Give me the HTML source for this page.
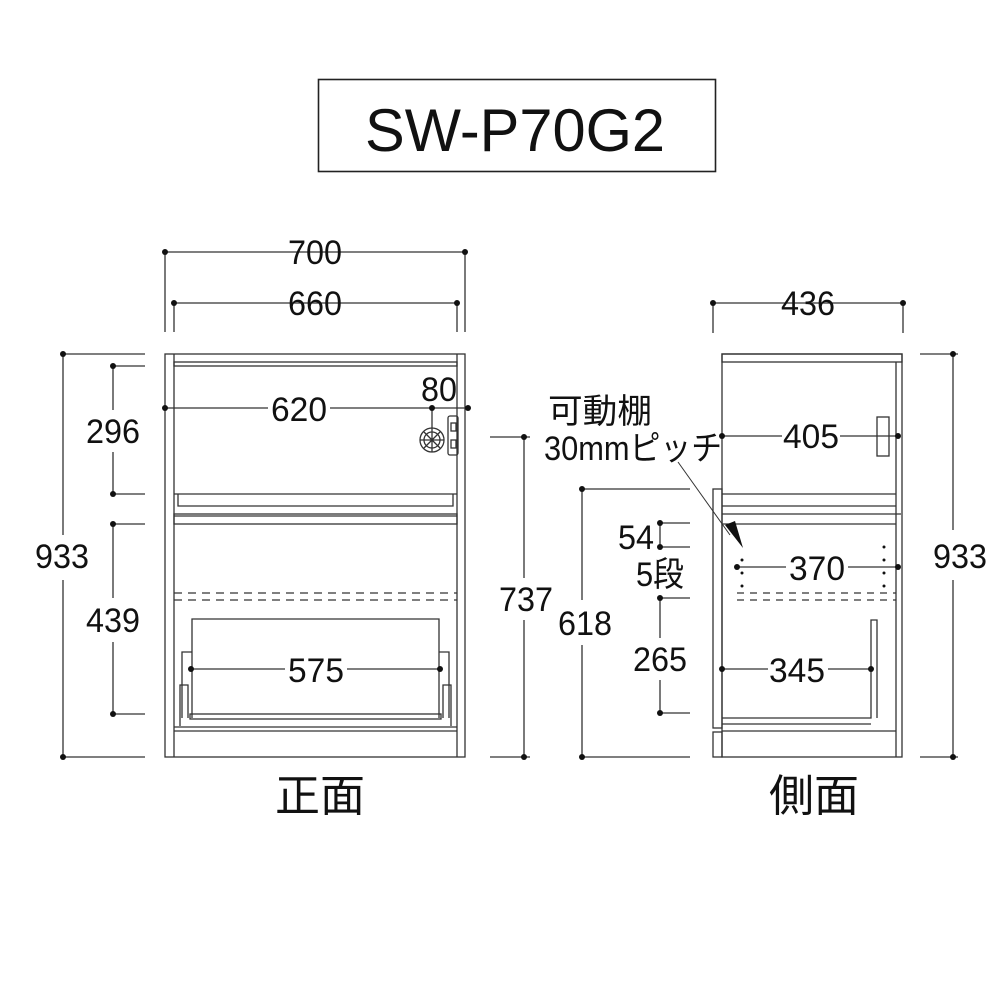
<!DOCTYPE html>
<html><head><meta charset="utf-8"><style>
html,body{margin:0;padding:0;background:#fff;}
svg{display:block;}
text{font-family:"Liberation Sans","Noto Sans CJK JP",sans-serif;fill:#111;}
</style></head><body>
<svg width="1000" height="1000" viewBox="0 0 1000 1000" xmlns="http://www.w3.org/2000/svg">
<g fill="none" stroke="#333" stroke-width="1.3">
<rect x="318.5" y="79.5" width="397" height="92" stroke="#222" stroke-width="1.6"/>
<line x1="165" y1="252" x2="465" y2="252"/>
<line x1="165" y1="252" x2="165" y2="332"/><line x1="465" y1="252" x2="465" y2="332"/>
<line x1="174" y1="303" x2="457" y2="303"/>
<line x1="174" y1="303" x2="174" y2="332"/><line x1="457" y1="303" x2="457" y2="332"/>
<line x1="63" y1="354" x2="145" y2="354"/><line x1="63" y1="757" x2="145" y2="757"/>
<line x1="63" y1="354" x2="63" y2="535"/><line x1="63" y1="580" x2="63" y2="757"/>
<line x1="113" y1="366" x2="145" y2="366"/><line x1="113" y1="494" x2="145" y2="494"/>
<line x1="113" y1="524" x2="145" y2="524"/><line x1="113" y1="714" x2="145" y2="714"/>
<line x1="113" y1="366" x2="113" y2="410"/><line x1="113" y1="452" x2="113" y2="494"/>
<line x1="113" y1="524" x2="113" y2="598"/><line x1="113" y1="642" x2="113" y2="714"/>
<line x1="490" y1="437" x2="530" y2="437"/><line x1="490" y1="757" x2="530" y2="757"/>
<line x1="524" y1="437" x2="524" y2="578"/><line x1="524" y1="620" x2="524" y2="757"/>
<rect x="165" y="354" width="300" height="403"/>
<line x1="174" y1="354" x2="174" y2="757"/><line x1="457" y1="354" x2="457" y2="757"/>
<rect x="174" y="362" width="283" height="4"/>
<path d="M178 494 V506 H453 V494 M174 494 H457"/>
<rect x="174" y="514" width="283" height="10"/>
<line x1="174" y1="516" x2="457" y2="516"/>
<line x1="174" y1="593" x2="457" y2="593" stroke-dasharray="8,6"/>
<line x1="174" y1="600" x2="457" y2="600" stroke-dasharray="8,6"/>
<path d="M192 718 V619 H439 V718"/>
<path d="M182 718 V652 H192 M449 718 V652 H439"/>
<path d="M180 726 V685 H188 V718 M451 726 V685 H443 V718"/>
<rect x="190" y="714" width="251" height="5"/>
<line x1="174" y1="727" x2="457" y2="727"/>
<line x1="174" y1="731" x2="457" y2="731"/>
<line x1="165" y1="408" x2="268" y2="408"/><line x1="330" y1="408" x2="468" y2="408"/>
<line x1="432" y1="408" x2="432" y2="428"/>
<circle cx="432" cy="440" r="12"/>
<circle cx="432" cy="440" r="8"/>
<path d="M424 432 L440 448 M440 432 L424 448 M432 428 V452 M420 440 H444"/>
<rect x="448" y="416" width="10" height="39" rx="2"/>
<rect x="451" y="423" width="5" height="8"/><rect x="451" y="440" width="5" height="8"/>
<line x1="191" y1="669" x2="285" y2="669"/><line x1="347" y1="669" x2="440" y2="669"/>
<line x1="713" y1="303" x2="903" y2="303"/>
<line x1="713" y1="303" x2="713" y2="333"/><line x1="903" y1="303" x2="903" y2="333"/>
<line x1="920" y1="354" x2="958" y2="354"/><line x1="920" y1="757" x2="958" y2="757"/>
<line x1="953" y1="354" x2="953" y2="530"/><line x1="953" y1="580" x2="953" y2="757"/>
<line x1="582" y1="489" x2="690" y2="489"/><line x1="582" y1="757" x2="690" y2="757"/>
<line x1="582" y1="489" x2="582" y2="600"/><line x1="582" y1="645" x2="582" y2="757"/>
<line x1="660" y1="523" x2="690" y2="523"/><line x1="660" y1="547" x2="690" y2="547"/>
<line x1="660" y1="598" x2="690" y2="598"/><line x1="660" y1="713" x2="690" y2="713"/>
<line x1="660" y1="523" x2="660" y2="547"/>
<line x1="660" y1="598" x2="660" y2="638"/><line x1="660" y1="680" x2="660" y2="713"/>
<rect x="722" y="354" width="180" height="403"/>
<rect x="722" y="354" width="180" height="8"/>
<line x1="896" y1="362" x2="896" y2="757"/>
<rect x="877" y="417" width="12" height="39"/>
<rect x="713" y="489" width="9" height="239"/>
<rect x="713" y="732" width="9" height="25"/>
<path d="M722 494 H896 M722 506 H896 M722 514 H901 M722 524 H896"/>
<line x1="737" y1="593" x2="896" y2="593" stroke-dasharray="7,6"/>
<line x1="737" y1="600" x2="896" y2="600" stroke-dasharray="7,6"/>
<path d="M722 718 H871 V620 H877 V718 M722 724 H871"/>
<line x1="722" y1="731" x2="896" y2="731"/>
<line x1="722" y1="436" x2="782" y2="436"/><line x1="840" y1="436" x2="898" y2="436"/>
<line x1="737" y1="567" x2="786" y2="567"/><line x1="848" y1="567" x2="898" y2="567"/>
<line x1="722" y1="669" x2="768" y2="669"/><line x1="828" y1="669" x2="871" y2="669"/>
<line x1="678" y1="462" x2="730" y2="535" stroke-width="1"/>
</g>
<g fill="#111">
<polygon points="743,548 725,525 735,521"/>
<circle cx="165" cy="252" r="3"/><circle cx="465" cy="252" r="3"/>
<circle cx="174" cy="303" r="3"/><circle cx="457" cy="303" r="3"/>
<circle cx="63" cy="354" r="3"/><circle cx="63" cy="757" r="3"/>
<circle cx="113" cy="366" r="3"/><circle cx="113" cy="494" r="3"/>
<circle cx="113" cy="524" r="3"/><circle cx="113" cy="714" r="3"/>
<circle cx="524" cy="437" r="3"/><circle cx="524" cy="757" r="3"/>
<circle cx="165" cy="408" r="3"/><circle cx="432" cy="408" r="3"/><circle cx="468" cy="408" r="3"/>
<circle cx="191" cy="669" r="3"/><circle cx="440" cy="669" r="3"/>
<circle cx="713" cy="303" r="3"/><circle cx="903" cy="303" r="3"/>
<circle cx="953" cy="354" r="3"/><circle cx="953" cy="757" r="3"/>
<circle cx="582" cy="489" r="3"/><circle cx="582" cy="757" r="3"/>
<circle cx="660" cy="523" r="3"/><circle cx="660" cy="547" r="3"/>
<circle cx="660" cy="598" r="3"/><circle cx="660" cy="713" r="3"/>
<circle cx="722" cy="436" r="3"/><circle cx="898" cy="436" r="3"/>
<circle cx="737" cy="567" r="3"/><circle cx="898" cy="567" r="3"/>
<circle cx="722" cy="669" r="3"/><circle cx="871" cy="669" r="3"/>
<circle cx="742" cy="560" r="1.5"/><circle cx="742" cy="573" r="1.5"/><circle cx="742" cy="586" r="1.5"/>
<circle cx="884" cy="547" r="1.5"/><circle cx="884" cy="560" r="1.5"/><circle cx="884" cy="573" r="1.5"/><circle cx="884" cy="586" r="1.5"/>
</g>
<text x="515" y="151" font-size="60" text-anchor="middle" fill="#333" textLength="300" lengthAdjust="spacingAndGlyphs">SW-P70G2</text>
<g font-size="34" text-anchor="middle" lengthAdjust="spacingAndGlyphs">
<text x="315" y="264" textLength="54" lengthAdjust="spacingAndGlyphs">700</text>
<text x="315" y="315" textLength="54" lengthAdjust="spacingAndGlyphs">660</text>
<text x="299" y="421" textLength="56" lengthAdjust="spacingAndGlyphs">620</text>
<text x="439" y="401" textLength="36" lengthAdjust="spacingAndGlyphs">80</text>
<text x="316" y="682" textLength="56" lengthAdjust="spacingAndGlyphs">575</text>
<text x="62" y="568" textLength="54" lengthAdjust="spacingAndGlyphs">933</text>
<text x="113" y="443" textLength="54" lengthAdjust="spacingAndGlyphs">296</text>
<text x="113" y="632" textLength="54" lengthAdjust="spacingAndGlyphs">439</text>
<text x="526" y="611" textLength="54" lengthAdjust="spacingAndGlyphs">737</text>
<text x="808" y="315" textLength="54" lengthAdjust="spacingAndGlyphs">436</text>
<text x="960" y="568" textLength="54" lengthAdjust="spacingAndGlyphs">933</text>
<text x="811" y="448" textLength="56" lengthAdjust="spacingAndGlyphs">405</text>
<text x="817" y="580" textLength="56" lengthAdjust="spacingAndGlyphs">370</text>
<text x="797" y="682" textLength="56" lengthAdjust="spacingAndGlyphs">345</text>
<text x="585" y="635" textLength="54" lengthAdjust="spacingAndGlyphs">618</text>
<text x="636" y="549" textLength="36" lengthAdjust="spacingAndGlyphs">54</text>
<text x="660" y="586" textLength="48" lengthAdjust="spacingAndGlyphs">5段</text>
<text x="660" y="671" textLength="54" lengthAdjust="spacingAndGlyphs">265</text>
<text x="600" y="423" textLength="104" lengthAdjust="spacingAndGlyphs">可動棚</text>
<text x="633" y="460" textLength="178" lengthAdjust="spacingAndGlyphs">30mmピッチ</text>
</g>
<text x="320" y="811" font-size="44" text-anchor="middle" textLength="90" lengthAdjust="spacingAndGlyphs">正面</text>
<text x="814" y="811" font-size="44" text-anchor="middle" textLength="90" lengthAdjust="spacingAndGlyphs">側面</text>
</svg>
</body></html>
